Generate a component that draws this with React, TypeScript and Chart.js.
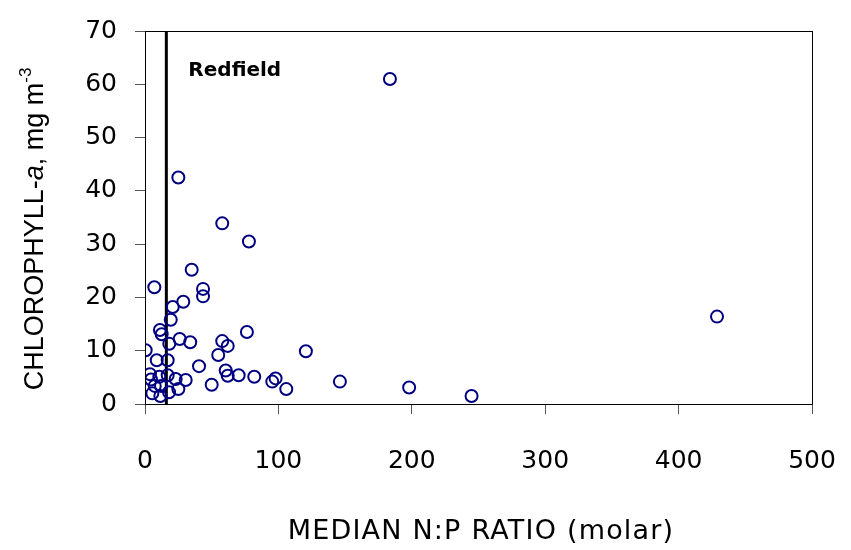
import React, { useEffect, useRef } from "react";
import { Chart, registerables } from "chart.js";

Chart.register(...registerables);

// Median N:P ratio (molar) per lake
const npRatio = [
  25.0, 57.9, 77.9, 35.0, 7.0, 43.5, 43.5, 28.7, 20.8, 19.3,
  11.2, 12.5, 76.4, 26.0, 18.2, 33.9, 57.9, 62.0, 0.5, 120.6,
  54.9, 8.8, 17.0, 40.5, 60.5, 3.7, 10.7, 17.0, 62.0, 70.2,
  81.9, 23.0, 30.5, 95.4, 97.9, 7.3, 50.0, 105.9, 25.0, 5.5,
  18.0, 11.5, 183.6, 428.8, 146.1, 198.0, 244.8, 4.5, 12.0,
];

// Chlorophyll-a, mg m^-3
const chlorophyll = [
  42.5, 33.9, 30.5, 25.2, 21.9, 21.6, 20.2, 19.2, 18.2, 15.8,
  13.9, 13.1, 13.5, 12.2, 11.3, 11.6, 11.8, 10.9, 10.1, 9.9,
  9.2, 8.2, 8.2, 7.1, 6.3, 5.6, 5.1, 5.4, 5.3, 5.4,
  5.1, 4.7, 4.5, 4.2, 4.8, 3.4, 3.6, 2.8, 2.8, 2.0,
  2.2, 1.5, 61.0, 16.4, 4.2, 3.1, 1.5, 4.6, 3.4,
];

// Redfield ratio reference line
const redfieldX = [16, 16];
const redfieldY = [0, 70];
const redfieldLabel = "Redfield";

const xTicks = [0, 100, 200, 300, 400, 500];
const yTicks = [0, 10, 20, 30, 40, 50, 60, 70];

const xTitle = "MEDIAN N:P RATIO (molar)";

const decorPlugin = {
  id: "decor",
  afterDatasetsDraw(chart: any) {
    const { ctx, chartArea } = chart;
    ctx.save();
    // frame
    ctx.strokeStyle = "#000";
    ctx.lineWidth = 1;
    ctx.strokeRect(
      Math.round(chartArea.left) + 0.5,
      Math.round(chartArea.top) + 0.5,
      Math.round(chartArea.right - chartArea.left),
      Math.round(chartArea.bottom - chartArea.top)
    );
    // Redfield label
    const xs = chart.scales.x;
    const ys = chart.scales.y;
    ctx.fillStyle = "#000";
    ctx.font = "bold 20px 'DejaVu Sans'";
    ctx.textAlign = "left";
    ctx.textBaseline = "alphabetic";
    ctx.fillText(redfieldLabel, xs.getPixelForValue(redfieldX[0]) + 22, ys.getPixelForValue(redfieldY[1]) + 45);
    ctx.restore();
  },
  afterDraw(chart: any) {
    const { ctx } = chart;
    ctx.save();
    ctx.fillStyle = "#000";
    // X title
    ctx.font = "27px 'DejaVu Sans'";
    (ctx as any).letterSpacing = "1.2px";
    ctx.textAlign = "center";
    ctx.textBaseline = "alphabetic";
    ctx.fillText(xTitle, 481, 539);
    (ctx as any).letterSpacing = "0px";
    // Y title (rotated, mixed styles)
    const parts = [
      { t: "CHLOROPHYLL-", f: "27px 'Liberation Sans'", dy: 0 },
      { t: "a", f: "italic 27px 'Liberation Sans'", dy: 0 },
      { t: ", mg m", f: "27px 'Liberation Sans'", dy: 0 },
      { t: "-3", f: "17px 'Liberation Sans'", dy: -12 },
    ];
    let total = 0;
    for (const p of parts) {
      ctx.font = p.f;
      total += ctx.measureText(p.t).width;
    }
    ctx.translate(43, 229);
    ctx.rotate(-Math.PI / 2);
    ctx.textAlign = "left";
    let x = -total / 2;
    for (const p of parts) {
      ctx.font = p.f;
      ctx.fillText(p.t, x, p.dy);
      x += ctx.measureText(p.t).width;
    }
    ctx.restore();
  },
};

export default function App() {
  const ref = useRef<HTMLCanvasElement | null>(null);

  useEffect(() => {
    document.body.style.margin = "0";
    const canvas = ref.current;
    if (!canvas) return;
    const chart = new Chart(canvas, {
      type: "scatter",
      data: {
        datasets: [
          {
            data: redfieldX.map((x, i) => ({ x, y: redfieldY[i] })),
            showLine: true,
            borderColor: "#000",
            borderWidth: 3,
            pointRadius: 0,
            order: 2,
          } as any,
          {
            data: npRatio.map((x, i) => ({ x, y: chlorophyll[i] })),
            pointStyle: "circle",
            pointRadius: 6,
            pointBorderWidth: 2,
            borderColor: "#000080",
            backgroundColor: "rgba(0,0,0,0)",
            order: 1,
          } as any,
        ],
      },
      options: {
        animation: false,
        responsive: false,
        devicePixelRatio: 1,
        layout: { padding: { top: 31, right: 39, left: 0, bottom: 0 } },
        plugins: {
          legend: { display: false },
          tooltip: { enabled: false },
        },
        scales: {
          x: {
            type: "linear",
            min: 0,
            max: 500,
            afterBuildTicks: (s: any) => {
              s.ticks = xTicks.map((v) => ({ value: v }));
            },
            afterFit: (s: any) => {
              s.height = 146;
              s.paddingLeft = 0;
              s.paddingRight = 0;
            },
            grid: { drawOnChartArea: false, drawTicks: true, tickLength: 10, color: "#555" },
            border: { display: true, color: "#000", width: 1 },
            ticks: {
              font: { family: "DejaVu Sans", size: 25 },
              color: "#000",
              padding: 32,
              maxRotation: 0,
              autoSkip: false,
            },
          },
          y: {
            type: "linear",
            min: 0,
            max: 70,
            afterBuildTicks: (s: any) => {
              s.ticks = yTicks.map((v) => ({ value: v }));
            },
            afterFit: (s: any) => {
              s.width = 145;
              s.paddingTop = 0;
              s.paddingBottom = 0;
            },
            grid: { drawOnChartArea: false, drawTicks: true, tickLength: 10, color: "#555" },
            border: { display: true, color: "#000", width: 1 },
            ticks: {
              font: { family: "DejaVu Sans", size: 25 },
              color: "#000",
              padding: 18,
              autoSkip: false,
            },
          },
        },
      } as any,
      plugins: [decorPlugin],
    });
    return () => chart.destroy();
  }, []);

  return (
    <div style={{ width: 851, height: 550, background: "#fff" }}>
      <canvas ref={ref} width={851} height={550} style={{ display: "block" }} />
    </div>
  );
}
